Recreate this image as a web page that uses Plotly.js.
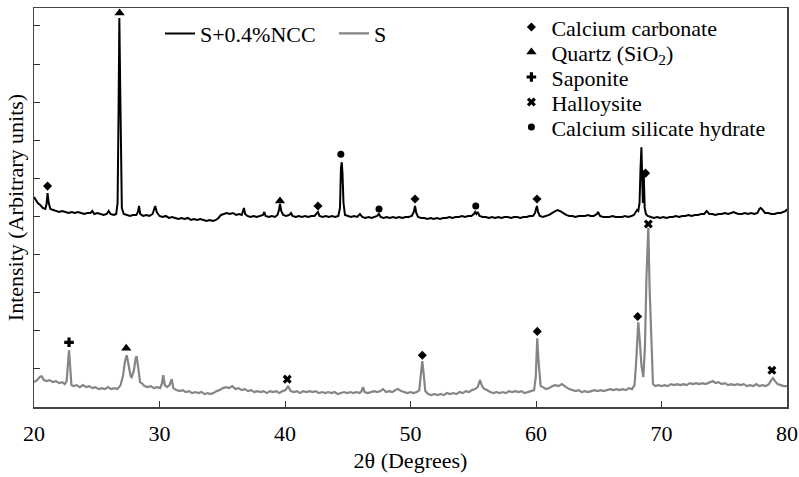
<!DOCTYPE html>
<html>
<head>
<meta charset="utf-8">
<script src="https://cdn.plot.ly/plotly-3.0.1.min.js"></script>
<style>
html,body{margin:0;padding:0;background:#fff;}
#chart{width:799px;height:477px;}
</style>
</head>
<body>
<div id="chart"></div>
<script>
// X-ray diffraction patterns: [2θ (degrees), intensity (arbitrary units)]
const nccPattern = [
[20.00,211],[20.15,208],[20.30,205],[20.50,203],[20.70,200],[20.90,199],[21.00,204],[21.08,215],[21.16,206],[21.30,199],
[21.50,198],[21.75,197],[22.00,196],[22.25,197],[22.50,196],[22.75,195],[23.00,196],[23.25,195],[23.50,196],[23.75,195],
[24.00,194],[24.25,195],[24.50,195],[24.65,197],[24.80,194],[25.05,195],[25.30,194],[25.55,193],[25.80,194],[25.95,197],
[26.10,194],[26.35,193],[26.55,194],[26.66,205],[26.74,300],[26.80,391],[26.86,330],[26.93,240],[27.00,200],[27.15,194],
[27.40,193],[27.65,192],[27.90,193],[28.15,193],[28.28,196],[28.37,202],[28.46,194],[28.70,192],[28.95,193],[29.20,192],
[29.45,194],[29.58,200],[29.66,202],[29.78,196],[30.00,192],[30.25,191],[30.50,192],[30.75,190],[31.00,191],[31.25,190],
[31.50,189],[31.75,190],[32.00,189],[32.25,190],[32.50,188],[32.75,189],[33.00,188],[33.25,189],[33.50,188],[33.75,187],
[34.00,188],[34.25,187],[34.50,188],[34.70,190],[34.90,193],[35.10,194],[35.35,195],[35.60,194],[35.85,195],[36.10,193],
[36.35,194],[36.55,193],[36.65,197],[36.73,200],[36.82,194],[37.00,192],[37.25,191],[37.50,192],[37.75,191],[38.00,192],
[38.25,193],[38.35,196],[38.45,192],[38.70,191],[38.95,192],[39.20,191],[39.40,193],[39.52,198],[39.60,204],[39.70,197],
[39.85,193],[40.10,192],[40.35,193],[40.48,195],[40.60,192],[40.85,191],[41.10,192],[41.35,191],[41.60,192],[41.85,191],
[42.10,192],[42.35,192],[42.50,194],[42.63,196],[42.75,192],[43.00,191],[43.25,192],[43.50,191],[43.75,192],[44.00,191],
[44.25,192],[44.38,200],[44.46,240],[44.52,246],[44.58,235],[44.66,205],[44.78,193],[45.00,192],[45.25,191],[45.50,192],
[45.75,191],[45.97,194],[46.15,191],[46.40,190],[46.65,191],[46.90,190],[47.15,191],[47.35,192],[47.49,194],[47.62,191],
[47.85,190],[48.10,191],[48.35,190],[48.60,191],[48.85,190],[49.10,191],[49.35,190],[49.60,191],[49.85,191],[50.10,192],
[50.26,196],[50.36,202],[50.46,195],[50.60,191],[50.85,190],[51.10,190],[51.35,189],[51.60,190],[51.85,189],[52.10,190],
[52.35,189],[52.60,190],[52.85,190],[53.10,191],[53.35,190],[53.60,191],[53.85,191],[54.10,192],[54.35,191],[54.60,192],
[54.85,192],[55.05,194],[55.15,196],[55.25,194],[55.35,196],[55.50,192],[55.75,191],[56.00,191],[56.25,190],[56.50,191],
[56.75,190],[57.00,191],[57.25,190],[57.50,191],[57.75,191],[58.00,190],[58.25,191],[58.50,191],[58.75,190],[59.00,191],
[59.25,191],[59.50,192],[59.75,192],[59.92,195],[60.02,200],[60.08,202],[60.16,196],[60.30,192],[60.55,191],[60.80,192],
[61.05,193],[61.30,195],[61.55,197],[61.70,198],[61.90,197],[62.15,195],[62.40,193],[62.65,192],[62.90,192],[63.15,191],
[63.40,192],[63.65,192],[63.90,192],[64.14,193],[64.35,192],[64.60,192],[64.85,194],[64.94,196],[65.10,192],[65.35,191],
[65.60,191],[65.85,191],[66.10,192],[66.35,191],[66.60,191],[66.85,191],[67.10,192],[67.35,191],[67.60,192],[67.80,193],
[67.95,196],[68.05,198],[68.15,197],[68.25,205],[68.33,240],[68.40,261],[68.46,230],[68.52,205],[68.58,238],[68.66,200],
[68.76,194],[68.90,192],[69.15,191],[69.40,190],[69.65,191],[69.90,190],[70.15,191],[70.40,190],[70.65,191],[70.90,191],
[71.15,192],[71.40,191],[71.65,192],[71.90,192],[72.15,193],[72.40,192],[72.65,193],[72.90,193],[73.15,194],[73.40,194],
[73.60,197],[73.80,194],[74.05,194],[74.30,193],[74.55,194],[74.80,194],[75.05,195],[75.30,194],[75.55,195],[75.75,196],
[75.90,195],[76.15,194],[76.40,194],[76.65,195],[76.90,194],[77.15,195],[77.40,194],[77.65,195],[77.80,199],[77.90,200],
[78.00,199],[78.10,197],[78.25,195],[78.50,195],[78.75,194],[79.00,194],[79.25,195],[79.50,195],[79.75,196],[79.90,197],
[80.00,199]
];
const sPattern = [
[20.00,25],[20.25,27],[20.45,30],[20.60,31],[20.80,27],[21.00,26],[21.25,27],[21.50,25],[21.75,26],[22.00,24],
[22.25,25],[22.45,23],[22.60,26],[22.72,45],[22.79,57],[22.86,45],[22.98,22],[23.15,21],[23.40,22],[23.65,20],
[23.90,22],[24.15,20],[24.40,21],[24.65,19],[24.90,20],[25.15,18],[25.40,19],[25.65,18],[25.90,20],[26.15,18],
[26.40,19],[26.65,18],[26.90,22],[27.10,32],[27.25,46],[27.39,52],[27.55,40],[27.70,31],[27.78,30],[27.95,36],
[28.10,49],[28.18,51],[28.30,40],[28.45,25],[28.58,24],[28.80,21],[29.05,20],[29.30,21],[29.55,19],[29.80,20],
[30.05,19],[30.20,24],[30.30,32],[30.42,22],[30.60,20],[30.80,22],[30.97,28],[31.10,19],[31.35,17],[31.60,16],
[31.85,17],[32.10,15],[32.35,16],[32.60,14],[32.85,15],[33.10,14],[33.35,15],[33.60,13],[33.85,14],[34.02,13],
[34.30,14],[34.55,16],[34.80,17],[35.05,19],[35.30,20],[35.55,19],[35.80,21],[36.05,18],[36.30,19],[36.55,17],
[36.80,18],[37.05,16],[37.30,17],[37.55,15],[37.80,16],[38.05,15],[38.30,16],[38.55,14],[38.80,16],[39.05,15],
[39.30,16],[39.55,14],[39.80,16],[40.05,17],[40.24,21],[40.45,16],[40.70,15],[40.95,16],[41.20,14],[41.45,16],
[41.70,15],[41.95,16],[42.20,15],[42.45,16],[42.70,14],[42.95,15],[43.20,14],[43.45,15],[43.70,14],[43.95,15],
[44.20,13],[44.45,14],[44.70,15],[44.95,14],[45.20,15],[45.45,14],[45.70,15],[45.95,14],[46.10,16],[46.22,20],
[46.35,15],[46.60,14],[46.85,15],[47.10,16],[47.35,15],[47.60,16],[47.81,18],[48.05,15],[48.30,16],[48.55,15],
[48.80,17],[49.00,18],[49.25,16],[49.50,15],[49.75,14],[50.00,15],[50.25,14],[50.50,15],[50.70,17],[50.82,32],
[50.94,46],[51.05,33],[51.18,16],[51.40,13],[51.65,12],[51.90,13],[52.15,12],[52.40,13],[52.65,12],[52.90,14],
[53.15,13],[53.40,14],[53.65,13],[53.90,15],[54.15,14],[54.40,16],[54.65,15],[54.90,17],[55.15,18],[55.35,20],
[55.54,27],[55.70,21],[55.90,18],[56.10,17],[56.35,15],[56.60,14],[56.85,15],[57.10,14],[57.35,15],[57.60,14],
[57.85,16],[58.10,15],[58.35,16],[58.60,15],[58.85,16],[59.10,14],[59.35,15],[59.60,16],[59.85,17],[59.98,30],
[60.05,55],[60.10,69],[60.18,50],[60.28,30],[60.37,21],[60.55,20],[60.80,18],[61.05,19],[61.30,21],[61.55,22],
[61.80,21],[62.05,23],[62.15,22],[62.40,20],[62.65,18],[62.90,17],[63.15,16],[63.40,17],[63.65,15],[63.90,16],
[64.15,15],[64.40,16],[64.65,17],[64.90,16],[65.15,17],[65.40,16],[65.65,17],[65.90,18],[66.15,17],[66.40,18],
[66.65,17],[66.90,18],[67.15,17],[67.40,19],[67.65,18],[67.85,22],[67.98,45],[68.08,75],[68.15,85],[68.25,70],
[68.40,42],[68.55,30],[68.68,60],[68.80,130],[68.95,180],[69.05,120],[69.14,88],[69.22,60],[69.32,23],[69.50,21],
[69.75,22],[70.00,21],[70.25,22],[70.50,21],[70.75,23],[71.00,22],[71.25,23],[71.50,22],[71.75,23],[72.00,22],
[72.25,24],[72.50,23],[72.75,24],[73.00,23],[73.25,24],[73.50,23],[73.75,24],[74.00,25],[74.10,26],[74.30,24],
[74.55,25],[74.80,23],[75.05,24],[75.30,22],[75.55,23],[75.80,22],[76.05,23],[76.30,22],[76.55,23],[76.80,21],
[77.05,22],[77.30,21],[77.55,23],[77.80,21],[78.05,22],[78.30,21],[78.55,23],[78.75,27],[78.88,29],[79.05,26],
[79.25,23],[79.50,22],[79.75,21],[80.00,21]
];

// Phase identification markers (2θ, intensity position of marker)
const caco3X = [21.08, 42.63, 50.36, 60.08, 68.73, 50.94, 60.10, 68.10];
const caco3Y = [222, 202, 209, 209, 235, 52, 76, 91];
const quartzX = [26.82, 39.60, 27.35];
const quartzY = [396, 207, 59];
const saponiteX = [22.79];
const saponiteY = [65];
const halloysiteX = [40.18, 68.95, 78.80];
const halloysiteY = [28, 184, 37];
const cshX = [44.45, 47.49, 55.20];
const cshY = [254, 199, 202];

const seriesNames = ['S+0.4%NCC', 'S'];
const phaseNames = ['Calcium carbonate', 'Quartz (SiO<sub>2</sub>)', 'Saponite', 'Halloysite', 'Calcium silicate hydrate'];
const xTickVals = [20, 30, 40, 50, 60, 70, 80];
const xTickText = ['20', '30', '40', '50', '60', '70', '80'];

const FONT = 'Times New Roman';
const FS = 22;

const phaseLegends = ['legend2', 'legend4', 'legend5', 'legend6', 'legend7'];
const phaseSymbols = ['diamond', 'triangle-up', 'cross', 'x', 'circle'];
const phaseSizes = [7, 9, 8, 8, 7];
const phaseX = [caco3X, quartzX, saponiteX, halloysiteX, cshX];
const phaseY = [caco3Y, quartzY, saponiteY, halloysiteY, cshY];

const traces = [
  {x: nccPattern.map(p => p[0]), y: nccPattern.map(p => p[1]), type: 'scatter', mode: 'lines',
   name: seriesNames[0], line: {color: '#000000', width: 2}, legend: 'legend'},
  {x: sPattern.map(p => p[0]), y: sPattern.map(p => p[1]), type: 'scatter', mode: 'lines',
   name: seriesNames[1], line: {color: '#858585', width: 2.2}, legend: 'legend3'}
];
phaseNames.forEach((nm, i) => {
  traces.push({x: phaseX[i], y: phaseY[i], type: 'scatter', mode: 'markers', name: nm, legend: phaseLegends[i],
    marker: {symbol: phaseSymbols[i], size: phaseSizes[i], color: '#000'}});
});

function legendCfg(x, y, orient) {
  return {x: x, y: y, xanchor: 'left', yanchor: 'top', orientation: orient,
    bgcolor: 'rgba(0,0,0,0)', borderwidth: 0, font: {family: FONT, size: FS, color: '#000'}};
}

const layout = {
  width: 799, height: 477,
  margin: {l: 34, r: 12, t: 7, b: 70, pad: 0},
  paper_bgcolor: '#ffffff', plot_bgcolor: '#ffffff',
  font: {family: FONT, size: FS, color: '#000'},
  showlegend: true,
  xaxis: {
    range: [20, 80], tickmode: 'array', tickvals: xTickVals, ticktext: xTickText,
    ticks: 'inside', ticklen: 6, tickwidth: 1, tickcolor: '#333',
    showline: true, linecolor: '#444', linewidth: 1.5, mirror: true,
    showgrid: false, zeroline: false, ticklabelstandoff: 6,
    tickfont: {family: FONT, size: FS, color: '#000'},
    title: {text: '2θ (Degrees)', font: {family: FONT, size: FS, color: '#000'}, standoff: 7}
  },
  yaxis: {
    range: [0, 401], tick0: 0, dtick: 38.3, showticklabels: false,
    ticks: 'inside', ticklen: 6, tickwidth: 1, tickcolor: '#333',
    showline: true, linecolor: '#444', linewidth: 1.5, mirror: true,
    showgrid: false, zeroline: false,
    title: {text: 'Intensity (Arbitrary units)', font: {family: FONT, size: FS, color: '#000'}, standoff: 3}
  },
  legend: legendCfg(0.1673, 0.986, 'h'),
  legend3: legendCfg(0.3984, 0.986, 'h')
};
const rowY = [1.0, 0.9375, 0.875, 0.8125, 0.75];
phaseLegends.forEach((lg, i) => { layout[lg] = legendCfg(0.634, rowY[i] + 0.002, 'v'); });

Plotly.newPlot('chart', traces, layout, {displayModeBar: false, staticPlot: true});
</script>
</body>
</html>
